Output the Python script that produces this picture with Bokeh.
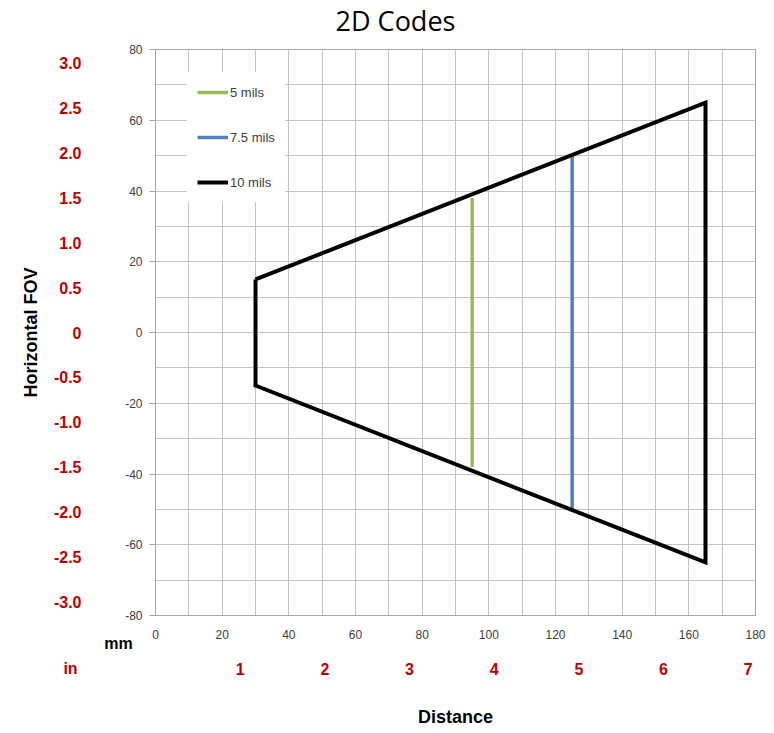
from bokeh.plotting import figure
from bokeh.models import (Range1d, LinearAxis, FixedTicker, Label, Legend, LegendItem)
from bokeh.embed import file_html
from bokeh.resources import INLINE

# ---- data ----
mm_x_ticks = [0, 20, 40, 60, 80, 100, 120, 140, 160, 180]
mm_y_ticks = [-80, -60, -40, -20, 0, 20, 40, 60, 80]
mm_y_labels = ["-80", "-60", "-40", "-20", "0", "20", "40", "60", "80"]
in_x_ticks = [1, 2, 3, 4, 5, 6, 7]
in_y_ticks = [-3.0, -2.5, -2.0, -1.5, -1.0, -0.5, 0.0, 0.5, 1.0, 1.5, 2.0, 2.5, 3.0]
in_y_labels = ["-3.0", "-2.5", "-2.0", "-1.5", "-1.0", "-0.5", "0", "0.5", "1.0", "1.5", "2.0", "2.5", "3.0"]
grid_x = list(range(0, 181, 10))
grid_y = list(range(-80, 81, 10))

ten_x = [30, 165, 165, 30, 30]
ten_y = [15, 65, -65, -15, 15]
five_x = [95, 95]
five_y = [-38, 38]
seven_x = [125, 125]
seven_y = [-50, 50]

MM_PER_IN = 25.4
RED = "#c00000"
GRAY_TXT = "#404040"
GRID = "#c4c4c4"
AXIS = "#a6a6a6"

p = figure(width=774, height=733, output_backend="svg", toolbar_location=None,
           x_range=Range1d(0, 180), y_range=Range1d(-80, 80),
           min_border_left=155, min_border_right=19, min_border_top=49, min_border_bottom=118)
p.extra_x_ranges = {"in_x": Range1d(0, 180 / MM_PER_IN)}
p.extra_y_ranges = {"in_y": Range1d(-80 / MM_PER_IN, 80 / MM_PER_IN)}

p.outline_line_color = AXIS
p.background_fill_color = "white"
p.border_fill_color = "white"

p.xgrid.ticker = FixedTicker(ticks=grid_x)
p.ygrid.ticker = FixedTicker(ticks=grid_y)
for g in (p.xgrid, p.ygrid):
    g.grid_line_color = GRID
    g.grid_line_width = 1

# mm axes
xa = p.xaxis[0]
xa.ticker = FixedTicker(ticks=mm_x_ticks)
xa.axis_line_color = AXIS
xa.major_tick_out = 0
xa.major_tick_in = 0
xa.minor_tick_out = 0
xa.minor_tick_in = 0
xa.major_label_standoff = 14
xa.major_label_text_font = "Liberation Sans"
xa.major_label_text_font_size = "12px"
xa.major_label_text_color = GRAY_TXT

ya = p.yaxis[0]
ya.ticker = FixedTicker(ticks=mm_y_ticks)
ya.major_label_overrides = dict(zip(mm_y_ticks, mm_y_labels))
ya.axis_line_color = AXIS
ya.major_tick_line_color = AXIS
ya.major_tick_out = 6
ya.major_tick_in = 0
ya.minor_tick_out = 0
ya.minor_tick_in = 0
ya.major_label_standoff = 7
ya.major_label_text_font = "Liberation Sans"
ya.major_label_text_font_size = "12px"
ya.major_label_text_color = GRAY_TXT

# inch axes
in_y_axis = LinearAxis(y_range_name="in_y", ticker=FixedTicker(ticks=in_y_ticks),
                       major_label_overrides=dict(zip(in_y_ticks, in_y_labels)))
in_y_axis.axis_line_color = None
in_y_axis.major_tick_line_color = None
in_y_axis.minor_tick_line_color = None
in_y_axis.major_label_standoff = 7
in_y_axis.major_label_text_font = "Liberation Sans"
in_y_axis.major_label_text_font_size = "16px"
in_y_axis.major_label_text_font_style = "bold"
in_y_axis.major_label_text_color = RED
in_y_axis.axis_label = "Horizontal FOV"
in_y_axis.axis_label_text_font = "Liberation Sans"
in_y_axis.axis_label_text_font_size = "18px"
in_y_axis.axis_label_text_font_style = "bold"
in_y_axis.axis_label_text_color = "black"
in_y_axis.axis_label_standoff = 10

in_x_axis = LinearAxis(x_range_name="in_x", ticker=FixedTicker(ticks=in_x_ticks))
in_x_axis.axis_line_color = None
in_x_axis.major_tick_line_color = None
in_x_axis.minor_tick_line_color = None
in_x_axis.major_label_standoff = 15
in_x_axis.major_label_text_font = "Liberation Sans"
in_x_axis.major_label_text_font_size = "16px"
in_x_axis.major_label_text_font_style = "bold"
in_x_axis.major_label_text_color = RED
in_x_axis.axis_label = "Distance"
in_x_axis.axis_label_text_font = "Liberation Sans"
in_x_axis.axis_label_text_font_size = "18px"
in_x_axis.axis_label_text_font_style = "bold"
in_x_axis.axis_label_text_color = "black"
in_x_axis.axis_label_standoff = 29
p.add_layout(in_x_axis, "below")

# data lines
r5 = p.line(five_x, five_y, line_color="#9bbb59", line_width=3.5)
r75 = p.line(seven_x, seven_y, line_color="#4f81bd", line_width=3.5)
r10 = p.line(ten_x, ten_y, line_color="black", line_width=4, line_join="miter")

legend = Legend(items=[LegendItem(label="5 mils", renderers=[r5]),
                       LegendItem(label="7.5 mils", renderers=[r75]),
                       LegendItem(label="10 mils", renderers=[r10])],
                location=(32, 413))
legend.glyph_width = 31
legend.glyph_height = 20
legend.label_standoff = 2
legend.spacing = 25
legend.padding = 10
legend.margin = 0
legend.border_line_alpha = 0
legend.background_fill_color = "white"
legend.background_fill_alpha = 1
legend.label_text_font = "Liberation Sans"
legend.label_text_font_size = "13px"
legend.label_text_color = GRAY_TXT
legend.label_height = 20
p.add_layout(legend, "center")

# texts outside the frame (placed in side panels so they are not clipped)
title_lbl = Label(x=72, y=88.2, text="2D Codes", text_font="Open Sans", text_font_size="27px",
                  text_align="center", text_baseline="middle", text_color="black")
mm_lbl = Label(x=-11.1, y=-87.9, text="mm", text_font="Liberation Sans", text_font_size="16px",
               text_font_style="bold", text_align="center", text_baseline="middle", text_color="black")
in_lbl = Label(x=-25.5, y=-95.0, text="in", text_font="Liberation Sans", text_font_size="16px",
               text_font_style="bold", text_align="center", text_baseline="middle", text_color=RED)

p.above = [title_lbl]
p.left = [ya, mm_lbl, in_y_axis]
p.right = [in_lbl]

open("out.html", "w").write(file_html(p, INLINE))
